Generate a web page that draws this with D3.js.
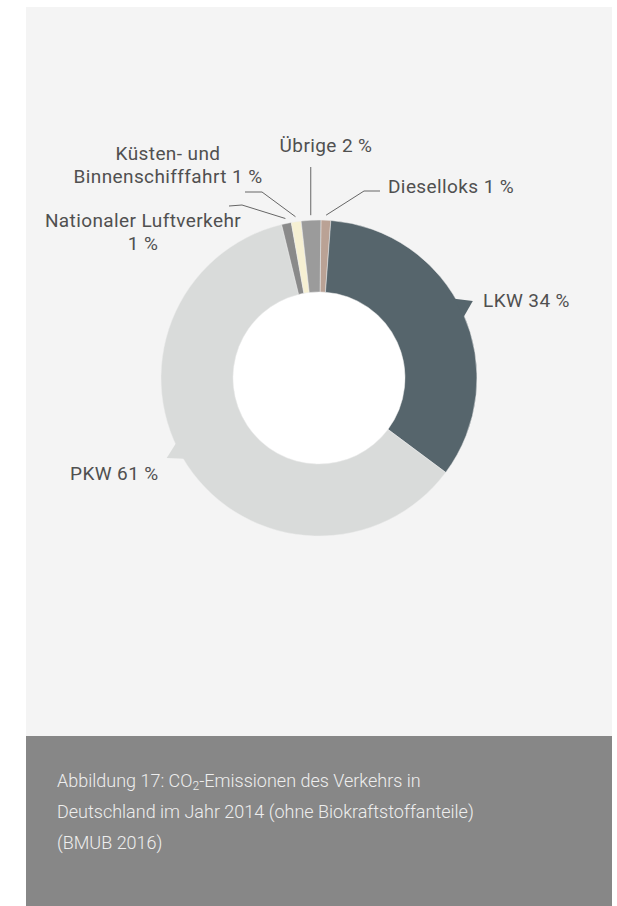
<!DOCTYPE html>
<html>
<head>
<meta charset="utf-8">
<script src="https://cdn.jsdelivr.net/npm/d3@7"></script>
<style>
  body { margin: 0; background: #fff; }
  text { font-family: Roboto, "Helvetica Neue", Arial, sans-serif; }
</style>
</head>
<body>
<script>
// data
let categories = ["Dieselloks", "LKW", "PKW", "Nationaler Luftverkehr", "Küsten- und Binnenschifffahrt", "Übrige"];
let shares = [1, 34, 61, 1, 1, 2];
let labelLines = [
    ["Dieselloks 1 %"],
    ["LKW 34 %"],
    ["PKW 61 %"],
    ["Nationaler Luftverkehr", "1 %"],
    ["Küsten- und", "Binnenschifffahrt 1 %"],
    ["Übrige 2 %"]
];
let colors = ["#baa295", "#56656c", "#d9dbda", "#8a8a8a", "#f6f0d3", "#9b9b9b"];

let width = 617,
    height = 906;
let svg = d3.select("body").append("svg")
    .attr("width", width).attr("height", height);

// panels
svg.append("rect").attr("x", 26).attr("y", 7).attr("width", 586).attr("height", 729).attr("fill", "#f4f4f4");
svg.append("rect").attr("x", 26).attr("y", 736).attr("width", 586).attr("height", 170).attr("fill", "#878787");

let cx = 319, cy = 378;
let outerRadius = 158, innerRadius = 86;
let offset = 0.7 * Math.PI / 180;

let pie = d3.pie().sort(null)
    .startAngle(offset).endAngle(2 * Math.PI + offset);
let arc = d3.arc().innerRadius(innerRadius).outerRadius(outerRadius);

let g = svg.append("g").attr("transform", "translate(" + cx + "," + cy + ")");
let arcsData = pie(shares);

// white hole in the middle
g.append("circle").attr("r", innerRadius).attr("fill", "#fff");

g.selectAll(".arc")
    .data(arcsData)
    .enter()
    .append("path")
    .attr("class", "arc")
    .attr("d", arc)
    .attr("fill", (d, i) => colors[i])
    .attr("stroke", "#eeeeee")
    .attr("stroke-width", 0.5);

function polar(a, r) { return [r * Math.sin(a), -r * Math.cos(a)]; }

// triangle pointers for big slices (angle in degrees)
let pointers = [{i: 1, angle: 63.4, half: 3.7}, {i: 2, angle: 242.3, half: 3.2}];
pointers.forEach(p => {
    let a = p.angle * Math.PI / 180, h = p.half * Math.PI / 180;
    let pts = [polar(a - h, outerRadius - 1), polar(a, outerRadius + 14), polar(a + h, outerRadius - 1)];
    g.append("path").attr("d", "M" + pts.join("L") + "Z").attr("fill", colors[p.i]);
});

// leader lines for small slices: elbow/end relative to page
let leaders = [
    {i: 0, pts: [[364, 191], [380, 191]]},
    {i: 3, pts: [[242, 205], [229, 206]]},
    {i: 4, pts: [[262, 192], [245, 192]]},
    {i: 5, pts: null}
];
leaders.forEach(l => {
    let d = arcsData[l.i];
    let mid = (d.startAngle + d.endAngle) / 2;
    let s = polar(mid, outerRadius + 5);
    let start = [s[0] + cx, s[1] + cy];
    let pts = l.pts ? [start].concat(l.pts) : [start, [start[0], 167]];
    svg.append("path")
        .attr("d", d3.line()(pts))
        .attr("fill", "none")
        .attr("stroke", "#666")
        .attr("stroke-width", 1);
});

// labels
let labelPos = [
    {x: 388, y: 193, anchor: "start"},
    {x: 483, y: 307, anchor: "start"},
    {x: 70, y: 480, anchor: "start"},
    {x: 143, y: 227, anchor: "middle"},
    {x: 168, y: 160, anchor: "middle"},
    {x: 326, y: 152, anchor: "middle"}
];
labelLines.forEach((lines, i) => {
    let t = svg.append("text")
        .attr("x", labelPos[i].x).attr("y", labelPos[i].y)
        .attr("text-anchor", labelPos[i].anchor)
        .attr("font-size", 19)
        .attr("letter-spacing", 0.4)
        .attr("fill", "#505050");
    lines.forEach((ln, j) => {
        t.append("tspan").attr("x", labelPos[i].x).attr("dy", j === 0 ? 0 : 22.5).text(ln);
    });
});

// caption
let cap = svg.append("g").attr("fill", "#eeeeee").attr("font-size", 18).attr("font-weight", 300);
let t1 = cap.append("text").attr("x", 57).attr("y", 787);
t1.append("tspan").text("Abbildung 17: CO");
t1.append("tspan").attr("font-size", 12).attr("dy", 3).text("2");
t1.append("tspan").attr("dy", -3).text("-Emissionen des Verkehrs in");
cap.append("text").attr("x", 57).attr("y", 818).text("Deutschland im Jahr 2014 (ohne Biokraftstoffanteile)");
cap.append("text").attr("x", 57).attr("y", 849).text("(BMUB 2016)");
</script>
</body>
</html>
